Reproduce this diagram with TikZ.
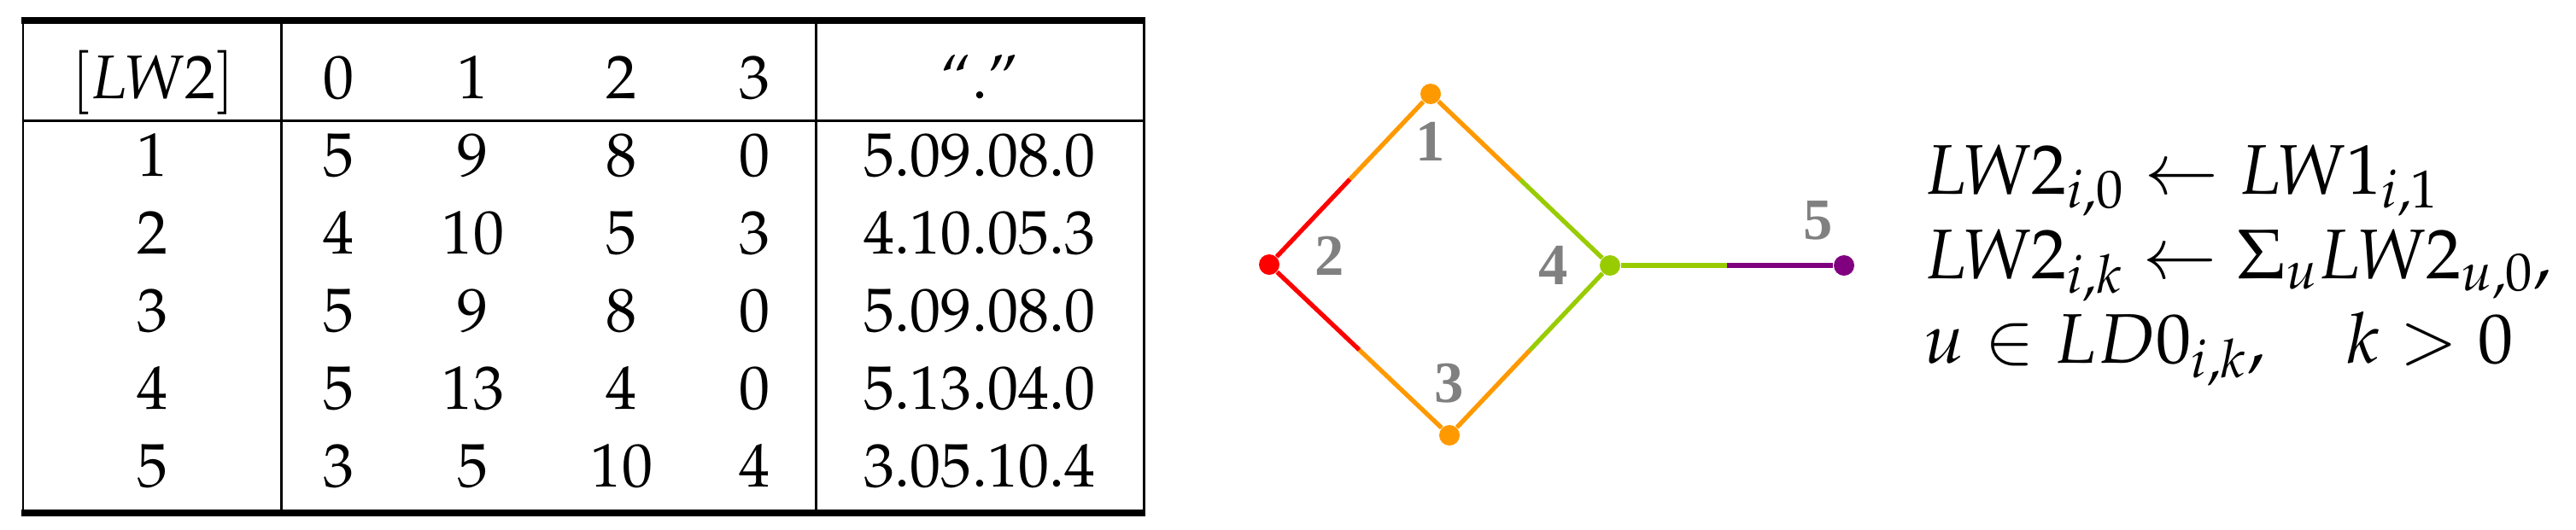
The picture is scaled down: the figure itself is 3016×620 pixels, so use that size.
\documentclass[tikz,border=0pt]{standalone}
\usepackage{fontspec}
\newfontfamily\vertexfont{Liberation Serif}
\usepackage[T1]{fontenc}
\usepackage{mathpazo}
\usepackage{tikz}
\usetikzlibrary{positioning}

\definecolor{vred}{RGB}{255,0,0}
\definecolor{vorange}{RGB}{255,153,0}
\definecolor{vgreen}{RGB}{153,204,0}
\definecolor{vpurple}{RGB}{128,0,128}
\definecolor{vgray}{RGB}{128,128,128}

\begin{document}
\begin{tikzpicture}[
    x=0.01cm, y=-0.01cm,
    cell/.style={anchor=base, inner sep=0pt, font=\fontsize{20.5}{24}\selectfont},
    heavyrule/.style={line width=2.3pt},
    thinrule/.style={line width=0.85pt},
    vertex/.style={circle, inner sep=0pt, minimum size=0.24cm},
    edge/.style={line width=1.5pt},
    vlabel/.style={inner sep=0pt, text=vgray, font=\vertexfont\bfseries\fontsize{19.5}{19.5}\selectfont},
    formula/.style={anchor=base west, inner sep=0pt, font=\fontsize{23.4}{28}\selectfont}
]
\useasboundingbox (0,0) rectangle (3016,620);

% Table rules
\draw[heavyrule] (25,24) -- (1341,24);
\draw[heavyrule] (25,601) -- (1341,601);
\draw[thinrule] (27,141) -- (1339,141);
\foreach \xv in {27,329,955,1339}
    \draw[thinrule] (\xv,28) -- (\xv,597);

% Table header
\node[cell] (hlw) at (179,115) {$[LW2]$};
\foreach \k/\xv in {0/397,1/554,2/728,3/884}
    \node[cell] (hk\k) at (\xv,115) {\k};
\node[cell] (hdot) at (1147,115) {``.''};

% Table rows
\foreach \u/\a/\b/\c/\d/\s [count=\i from 0] in {1/5/9/8/0/5.09.08.0, 2/4/10/5/3/4.10.05.3,
        3/5/9/8/0/5.09.08.0, 4/5/13/4/0/5.13.04.0, 5/3/5/10/4/3.05.10.4} {
    \node[cell] (row\u) at (179,206+91*\i) {\u};
    \node[cell] (row\u k0) at (397,206+91*\i) {\a};
    \node[cell] (row\u k1) at (554,206+91*\i) {\b};
    \node[cell] (row\u k2) at (728,206+91*\i) {\c};
    \node[cell] (row\u k3) at (884,206+91*\i) {\d};
    \node[cell] (row\u str) at (1147,206+91*\i) {\s};
}

% Graph vertices
\node[vertex, fill=vorange] (n1) at (1675,110) {};
\node[vertex, fill=vred] (n2) at (1486,310) {};
\node[vertex, fill=vorange] (n3) at (1697,510) {};
\node[vertex, fill=vgreen] (n4) at (1885,311) {};
\node[vertex, fill=vpurple] (n5) at (2159,311) {};

% Edges, each half in the colour of its end
\path (n2) -- (n1) coordinate[midway] (m21);
\path (n2) -- (n3) coordinate[midway] (m23);
\path (n1) -- (n4) coordinate[midway] (m14);
\path (n3) -- (n4) coordinate[midway] (m34);
\path (n4) -- (n5) coordinate[midway] (m45);
\draw[edge, vred] (n2) -- (m21);
\draw[edge, vorange] (m21) -- (n1);
\draw[edge, vred] (n2) -- (m23);
\draw[edge, vorange] (m23) -- (n3);
\draw[edge, vorange] (n1) -- (m14);
\draw[edge, vgreen] (m14) -- (n4);
\draw[edge, vorange] (n3) -- (m34);
\draw[edge, vgreen] (m34) -- (n4);
\draw[edge, vgreen] (n4) -- (m45);
\draw[edge, vpurple] (m45) -- (n5);

% Vertex labels
\node[vlabel, below=0.2cm of n1] (l1) {1};
\node[vlabel, right=0.4cm of n2, yshift=0.1cm] (l2) {2};
\node[vlabel, above=0.24cm of n3] (l3) {3};
\node[vlabel, left=0.36cm of n4] (l4) {4};
\node[vlabel, above=0.16cm of n5, xshift=-0.3cm] (l5) {5};

% Update rule
\node[formula] (f1) at (2252,227) {$LW2_{i,0} \leftarrow LW1_{i,1}$};
\node[formula] (f2) at (2252,326) {$LW2_{i,k} \leftarrow \Sigma_u LW2_{u,0},$};
\node[formula] (f3) at (2252,425) {$u \in LD0_{i,k}, \quad k > 0$};

\end{tikzpicture}
\end{document}
